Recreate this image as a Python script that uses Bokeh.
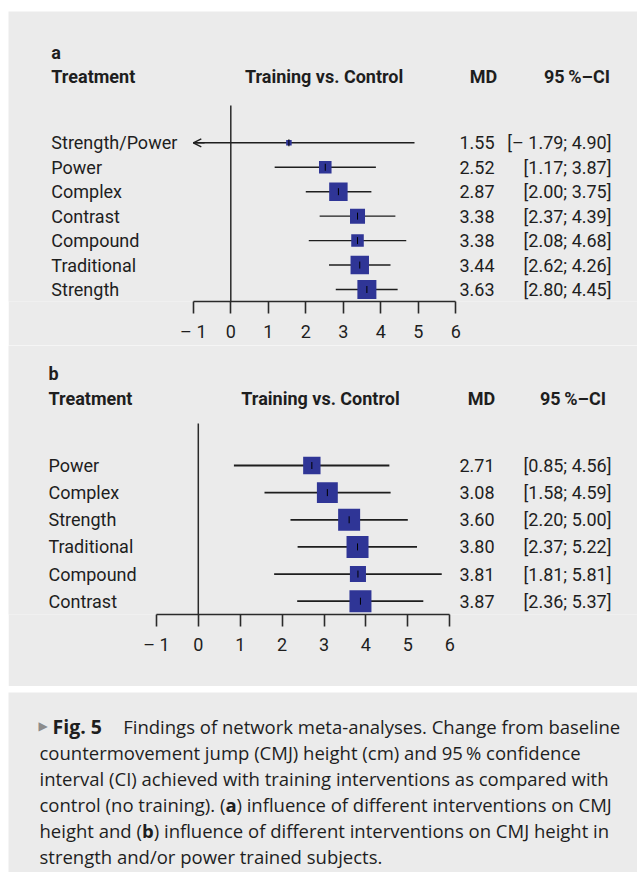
import numpy as np
from bokeh.plotting import figure
from bokeh.models import Range1d, LinearAxis, FixedTicker, Arrow, OpenHead, Spacer
from bokeh.layouts import column, row
from bokeh.embed import file_html
from bokeh.resources import INLINE
from bokeh.core.properties import value

# ---------------- data ----------------
treat_a = ["Strength/Power", "Power", "Complex", "Contrast", "Compound", "Traditional", "Strength"]
md_a = [1.55, 2.52, 2.87, 3.38, 3.38, 3.44, 3.63]
lo_a = [-1.79, 1.17, 2.00, 2.37, 2.08, 2.62, 2.80]
hi_a = [4.90, 3.87, 3.75, 4.39, 4.68, 4.26, 4.45]
weight_a = [2.9, 6.6, 9.7, 7.9, 6.6, 9.7, 10.0]

treat_b = ["Power", "Complex", "Strength", "Traditional", "Compound", "Contrast"]
md_b = [2.71, 3.08, 3.60, 3.80, 3.81, 3.87]
lo_b = [0.85, 1.58, 2.20, 2.37, 1.81, 2.36]
hi_b = [4.56, 4.59, 5.00, 5.22, 5.81, 5.37]
weight_b = [7.9, 9.5, 10.0, 10.0, 7.3, 10.0]

ticks = [-1, 0, 1, 2, 3, 4, 5, 6]
tick_labels = ["\u2013 1", "0", "1", "2", "3", "4", "5", "6"]

hdr_treat = "Treatment"
hdr_cmp = "Training vs. Control"
hdr_md = "MD"
hdr_ci = "95\u2009%\u2013CI"

caption_lines = [
    [("\u25B6", "mark"), ("Fig. 5", "bold"), ("Findings of network meta-analyses. Change from baseline", "normal")],
    [("countermovement jump (CMJ) height (cm) and 95\u2009% confidence", "normal")],
    [("interval (CI) achieved with training interventions as compared with", "normal")],
    [("control (no training). (", "normal"), ("a", "bold"), (") influence of different interventions on CMJ", "normal")],
    [("height and (", "normal"), ("b", "bold"), (") influence of different interventions on CMJ height in", "normal")],
    [("strength and/or power trained subjects.", "normal")],
]

# ---------------- style ----------------
FONT = "Roboto"
CAP_FONT = "Open Sans"
BG = "#ebebeb"
SQ = "#2f3596"
INK = "#1e1e1e"
W = 629          # figures span page x 8 .. 637
PAGE_X = 8
AX_MIN, AX_MAX = -1, 6


def fmt_num(v):
    return ("\u2013 " + f"{abs(v):.2f}") if v < 0 else f"{v:.2f}"


def forest(letter, treat, md, lo, hi, weight, g):
    n = len(treat)
    rows = list(range(n))
    x_of = lambda px: (px - g["zero_px"]) / g["unit_px"]
    y_of = lambda py: (py - g["row0_py"]) / g["row_px"]
    frame_h = g["axis_py"] - g["top_py"]
    p = figure(width=W, height=g["fig_h"], output_backend="svg", toolbar_location=None,
               x_range=Range1d(x_of(PAGE_X), x_of(PAGE_X + W)),
               y_range=Range1d(y_of(g["axis_py"]), y_of(g["top_py"])),
               x_axis_type=None, y_axis_type=None,
               min_border_left=0, min_border_right=0, min_border_top=0,
               min_border_bottom=g["fig_h"] - frame_h)
    p.background_fill_color = BG
    p.border_fill_color = BG
    p.outline_line_color = None

    # zero line
    p.segment(x0=[0], y0=[y_of(g["line_top_py"])], x1=[0], y1=[y_of(g["axis_py"])],
              line_color="#2a2a2a", line_width=1.5)

    # confidence intervals (clipped at axis bounds)
    lo_c = [max(v, AX_MIN) for v in lo]
    hi_c = [min(v, AX_MAX) for v in hi]
    p.segment(x0=lo_c, y0=rows, x1=hi_c, y1=rows, line_color=INK, line_width=g["lw"])
    for i in range(n):
        if lo[i] < AX_MIN:
            p.add_layout(Arrow(end=OpenHead(size=8, line_width=g["lw"], line_color=INK),
                               x_start=AX_MIN + 0.3, y_start=i, x_end=AX_MIN, y_end=i,
                               line_width=g["lw"], line_color=INK))

    # squares sized by weight
    sizes = [w * g["size_k"] for w in weight]
    p.scatter(x=md, y=rows, marker="square", size=sizes, fill_color=SQ, line_color=None)
    p.scatter(x=md, y=rows, marker="dash", angle=np.pi / 2, size=7, line_color="black", line_width=1)

    tf = value(FONT)
    fs = "18px"
    # letter and headers
    p.text(x=[x_of(g["label_px"])], y=[y_of(g["letter_py"])], text=[letter], text_font=tf,
           text_font_size=fs, text_font_style="bold", text_baseline="middle", text_color=INK)
    hy = y_of(g["head_py"])
    p.text(x=[x_of(g["label_px"])], y=[hy], text=[hdr_treat], text_font=tf, text_font_size=fs,
           text_font_style="bold", text_baseline="middle", text_color=INK)
    p.text(x=[x_of(g["cmp_px"])], y=[hy], text=[hdr_cmp], text_font=tf, text_font_size=fs,
           text_font_style="bold", text_baseline="middle", text_align="center", text_color=INK)
    p.text(x=[x_of(g["mdh_px"])], y=[hy], text=[hdr_md], text_font=tf, text_font_size=fs,
           text_font_style="bold", text_baseline="middle", text_align="center", text_color=INK)
    p.text(x=[x_of(g["cih_px"])], y=[hy], text=[hdr_ci], text_font=tf, text_font_size=fs,
           text_font_style="bold", text_baseline="middle", text_align="right", text_color=INK)

    # row labels and numbers
    p.text(x=[x_of(g["label_px"])] * n, y=rows, text=treat, text_font=tf, text_font_size=fs,
           text_baseline="middle", text_align="left", text_color=INK)
    p.text(x=[x_of(g["md_px"])] * n, y=rows, text=[f"{v:.2f}" for v in md], text_font=tf,
           text_font_size=fs, text_baseline="middle", text_align="right", text_color=INK)
    p.text(x=[x_of(g["ci_px"])] * n, y=rows,
           text=[f"[{fmt_num(a)}; {fmt_num(b)}]" for a, b in zip(lo, hi)], text_font=tf,
           text_font_size=fs, text_baseline="middle", text_align="right", text_color=INK)

    ax = LinearAxis(ticker=FixedTicker(ticks=ticks), bounds=(AX_MIN, AX_MAX),
                    major_label_overrides={t: l for t, l in zip(ticks, tick_labels)},
                    major_tick_in=0, major_tick_out=12, minor_tick_out=0, minor_tick_in=0,
                    axis_line_width=1.6, axis_line_color="#2a2a2a",
                    major_tick_line_width=1.6, major_tick_line_color="#2a2a2a",
                    major_label_standoff=g["standoff"], major_label_text_font=FONT,
                    major_label_text_font_size="18px", major_label_text_color=INK)
    p.add_layout(ax, "below")
    return p


geo_a = dict(top_py=11, fig_h=334, axis_py=301, zero_px=230.3, unit_px=37.49,
             row0_py=142.3, row_px=24.45, line_top_py=105, label_px=50.8, md_px=494,
             ci_px=611, head_py=76, letter_py=52, cmp_px=323.6, mdh_px=483, cih_px=609.5,
             size_k=1.9, lw=1.4, standoff=7)
geo_b = dict(top_py=345, fig_h=341, axis_py=614, zero_px=197.8, unit_px=41.9,
             row0_py=465, row_px=27.14, line_top_py=423, label_px=48, md_px=494,
             ci_px=611, head_py=398, letter_py=373, cmp_px=320, mdh_px=481, cih_px=605.5,
             size_k=2.2, lw=1.8, standoff=7)

pa = forest("a", treat_a, md_a, lo_a, hi_a, weight_a, geo_a)
pb = forest("b", treat_b, md_b, lo_b, hi_b, weight_b, geo_b)

# ---------------- caption ----------------
CAP_TOP = 692
pc = figure(width=W, height=186, output_backend="svg", toolbar_location=None,
            x_range=Range1d(0, W), y_range=Range1d(180, 0),
            x_axis_type=None, y_axis_type=None,
            min_border_left=0, min_border_right=0, min_border_top=6, min_border_bottom=0)
pc.background_fill_color = BG
pc.border_fill_color = "white"
pc.outline_line_color = None

baseline_y = [726, 752, 778, 804, 830, 856]
seg_x = [
    [38, 52, 122.7],
    [39],
    [39],
    [39, 224.9, 235.9],
    [39, 141.5, 153.2],
    [39],
]
CAP_FS = "18.5px"
for segs, xs, py in zip(caption_lines, seg_x, baseline_y):
    for (txt, style), px in zip(segs, xs):
        if style == "mark":
            pc.text(x=[px - PAGE_X], y=[py - CAP_TOP - 1], text=[txt], text_font=value("DejaVu Sans"),
                    text_font_size="12px", text_baseline="alphabetic", text_color="#8c8c8c")
        else:
            fsz = "19.5px" if txt.startswith("Fig") else CAP_FS
            pc.text(x=[px - PAGE_X], y=[py - CAP_TOP], text=[txt], text_font=value(CAP_FONT),
                    text_font_size=fsz, text_font_style=style, text_baseline="alphabetic",
                    text_color=INK)

layout = column(Spacer(width=637, height=11),
                row(Spacer(width=PAGE_X, height=10), column(pa, pb, pc, spacing=0), spacing=0),
                spacing=0)
open("out.html", "w").write(file_html(layout, INLINE))
